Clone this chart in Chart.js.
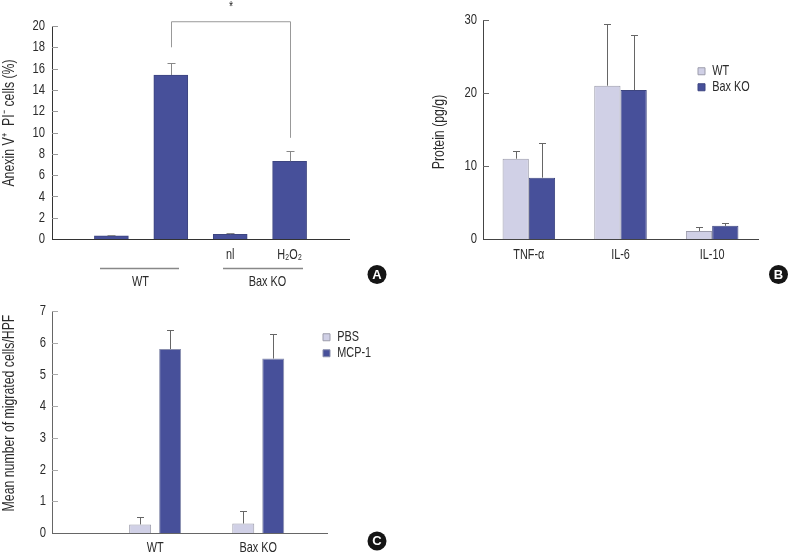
<!DOCTYPE html>
<html><head><meta charset="utf-8">
<script src="https://cdn.jsdelivr.net/npm/chart.js@4/dist/chart.umd.js"></script>
<style>
html,body{margin:0;padding:0;background:#fff}
#wrap{position:relative;width:789px;height:555px;overflow:hidden}
canvas{position:absolute;left:0;top:0}
</style></head><body>
<div id="wrap">
<canvas id="a" width="789" height="555"></canvas>
<canvas id="b" width="789" height="555"></canvas>
<canvas id="c" width="789" height="555"></canvas>
</div>
<script>
// Panel A
const aLabels = ['', '', '', 'nl', 'H\u2082O\u2082', ''];
const aValues = [null, 0.3, 15.4, 0.45, 7.3, null];
const aErrors = [null, 0.4, 16.5, 0.55, 8.3, null];
const aTitle = 'Anexin V\u207A  PI\u207B cells (%)';
const aBracket = [18, 20.4, 9.5];
// Panel B
const bLabels = ['TNF-\u03B1', 'IL-6', 'IL-10'];
const bWT = [11, 21, 1.1];
const bWTErr = [12.1, 29.5, 1.6];
const bKO = [8.4, 20.4, 1.8];
const bKOErr = [13.2, 27.9, 2.2];
const bTitle = 'Protein (pg/g)';
// Panel C
const cLabels = ['', '', '', 'WT', '', '', 'Bax KO', '', ''];
const cPBS = [null, null, null, 0.27, null, null, 0.3, null, null];
const cPBSErr = [null, null, null, 0.5, null, null, 0.7, null, null];
const cMCP = [null, null, null, 5.8, null, null, 5.5, null, null];
const cMCPErr = [null, null, null, 6.4, null, null, 6.27, null, null];
const cTitle = 'Mean number of migrated cells/HPF';

const FONT = '"Liberation Sans",sans-serif';
const DARK = '#47509a', DARKB = '#3d4580', LIGHT = '#d0d0e6', LIGHTB = '#9c9cab', TXT = '#2b2b2b';
const NARROW = 0.75;
Chart.defaults.font.family = FONT;
Chart.defaults.font.size = 14.5;
Chart.defaults.color = TXT;
Chart.defaults.animation = false;

function text(ctx, s, x, y, size, rot, color, font) {
  ctx.save();
  ctx.translate(x, y);
  if (rot) ctx.rotate(rot);
  ctx.font = (font || (size + 'px ' + FONT));
  ctx.fillStyle = color || TXT;
  ctx.textAlign = 'center';
  ctx.textBaseline = 'middle';
  ctx.fillText(s, 0, 0);
  ctx.restore();
}
function line(ctx, pts, color, w) {
  ctx.save();
  ctx.strokeStyle = color; ctx.lineWidth = w || 1;
  ctx.beginPath();
  pts.forEach((p, i) => i ? ctx.lineTo(p[0], p[1]) : ctx.moveTo(p[0], p[1]));
  ctx.stroke();
  ctx.restore();
}
function badge(ctx, letter, x, y) {
  ctx.save();
  ctx.fillStyle = '#151515';
  ctx.beginPath(); ctx.arc(x, y, 9.5, 0, Math.PI * 2); ctx.fill();
  ctx.restore();
  ctx.narrowOff = true;
  text(ctx, letter, x, y + 0.5, 13, 0, '#fff', 'bold 13px "Liberation Sans",sans-serif');
  ctx.narrowOff = false;
}
// the reference type is a condensed sans: narrow every label about its anchor
function condense(ctx) {
  const orig = ctx.fillText;
  ctx.fillText = function (s, x, y, mw) {
    if (this.narrowOff) return orig.call(this, s, x, y, mw);
    this.save();
    this.translate(x, y);
    this.scale(NARROW, 1);
    orig.call(this, s, 0, 0);
    this.restore();
  };
}

function panel(id, o) {
  const el = document.getElementById(id);
  condense(el.getContext('2d'));
  const plugin = {
    id: 'decor',
    afterLayout(chart) {
      if (o.legendAt && chart.legend) {
        const l = chart.legend;
        l.left = o.legendAt[0]; l.top = o.legendAt[1];
        l.right = l.left + 90; l.bottom = l.top + 50;
      }
    },
    afterDatasetsDraw(chart) {
      const ctx = chart.ctx, y = chart.scales.y;
      const left = chart.chartArea.left;
      y.ticks.forEach(t => {
        const py = Math.round(y.getPixelForValue(t.value)) + 0.5;
        if (t.value !== 0) line(ctx, [[left, py], [left + 6, py]], o.tickColor);
      });
      o.errors.forEach((errs, di) => {
        const meta = chart.getDatasetMeta(di);
        errs.forEach((e, i) => {
          if (e === null) return;
          const bar = meta.data[i];
          const x = Math.round(bar.x) + 0.5;
          const top = Math.round(y.getPixelForValue(e)) + 0.5;
          line(ctx, [[x, bar.y], [x, top]], o.errColor);
          line(ctx, [[x - o.cap, top], [x + o.cap, top]], o.errColor);
        });
      });
      text(ctx, o.title, o.titleAt[0], o.titleAt[1], 16.4, -Math.PI / 2);
      if (o.extra) o.extra(chart, ctx);
      badge(ctx, o.badge[0], o.badge[1], o.badge[2]);
    }
  };
  return new Chart(el, {
    type: 'bar',
    data: { labels: o.labels, datasets: o.datasets },
    options: {
      responsive: false,
      layout: { padding: { left: o.x0 - 52, top: o.y0, right: 789 - o.x1, bottom: 555 - o.y1 - 30 } },
      plugins: {
        tooltip: { enabled: false },
        legend: o.legendAt ? {
          display: true, position: 'chartArea', align: 'start',
          labels: { boxWidth: 7, boxHeight: 7, padding: 1.5, font: { size: 14.5, family: FONT }, color: TXT }
        } : { display: false }
      },
      scales: {
        x: {
          offset: o.offset,
          grid: { display: false, drawTicks: false },
          border: { color: o.axisColor, width: 1 },
          ticks: { autoSkip: false, maxRotation: 0, padding: o.xPad, font: { size: 14.5 }, color: TXT },
          afterFit(s) { s.height = 30; }
        },
        y: {
          min: 0, max: o.max,
          grid: { display: false, drawTicks: false },
          border: { color: o.axisColor, width: 1 },
          ticks: { stepSize: o.step, padding: o.yPad, font: { size: 15 }, color: TXT },
          afterFit(s) { s.width = 52; }
        }
      }
    },
    plugins: [plugin]
  });
}

panel('a', {
  labels: aLabels, x0: 52, x1: 349, y0: 26, y1: 239, max: 20, step: 2, offset: false, xPad: 7.5, yPad: 7,
  datasets: [{ data: aValues, backgroundColor: DARK, borderColor: DARKB, borderWidth: 1, barThickness: 34 }],
  errors: [aErrors], cap: 4, errColor: '#888', tickColor: '#999', axisColor: '#333',
  title: aTitle, titleAt: [9, 123], badge: ['A', 377, 274.5],
  extra(chart, ctx) {
    const y = chart.scales.y, x = chart.scales.x;
    const xl = Math.round(x.getPixelForValue(2)) + 0.5, xr = Math.round(x.getPixelForValue(4)) + 0.5;
    line(ctx, [[xl, y.getPixelForValue(aBracket[0])], [xl, y.getPixelForValue(aBracket[1])],
               [xr, y.getPixelForValue(aBracket[1])], [xr, y.getPixelForValue(aBracket[2])]], '#999');
    text(ctx, '*', (xl + xr) / 2, 7, 14);
    line(ctx, [[100, 268.5], [179, 268.5]], '#888', 1.5);
    line(ctx, [[223, 268.5], [303, 268.5]], '#888', 1.5);
    text(ctx, 'WT', 140.5, 281.5, 14.5);
    text(ctx, 'Bax KO', 267.5, 281.5, 14.5);
  }
});

panel('b', {
  labels: bLabels, x0: 483, x1: 758, y0: 20, y1: 239, max: 30, step: 10, offset: true, xPad: 7.5, yPad: 6,
  datasets: [
    { label: 'WT', data: bWT, backgroundColor: LIGHT, borderColor: LIGHTB, borderWidth: 1, categoryPercentage: 0.573, barPercentage: 1 },
    { label: 'Bax KO', data: bKO, backgroundColor: DARK, borderColor: DARKB, borderWidth: 1, categoryPercentage: 0.573, barPercentage: 1 }
  ],
  errors: [bWTErr, bKOErr], cap: 3.5, errColor: '#666', tickColor: '#666', axisColor: '#444',
  legendAt: [696.5, 62.5], title: bTitle, titleAt: [439, 132], badge: ['B', 778.5, 274.5]
});

panel('c', {
  labels: cLabels, x0: 52, x1: 327, y0: 311, y1: 533, max: 7, step: 1, offset: false, xPad: 6.5, yPad: 6,
  datasets: [
    { label: 'PBS', data: cPBS, backgroundColor: LIGHT, borderColor: LIGHTB, borderWidth: 1, categoryPercentage: 1.744, barPercentage: 0.733 },
    { label: 'MCP-1', data: cMCP, backgroundColor: DARK, borderColor: '#8a8fae', borderWidth: 1, categoryPercentage: 1.744, barPercentage: 0.733 }
  ],
  errors: [cPBSErr, cMCPErr], cap: 3.5, errColor: '#666', tickColor: '#aaa', axisColor: '#666',
  legendAt: [321.5, 328.5], title: cTitle, titleAt: [9, 413], badge: ['C', 377, 541]
});
</script>
</body></html>
